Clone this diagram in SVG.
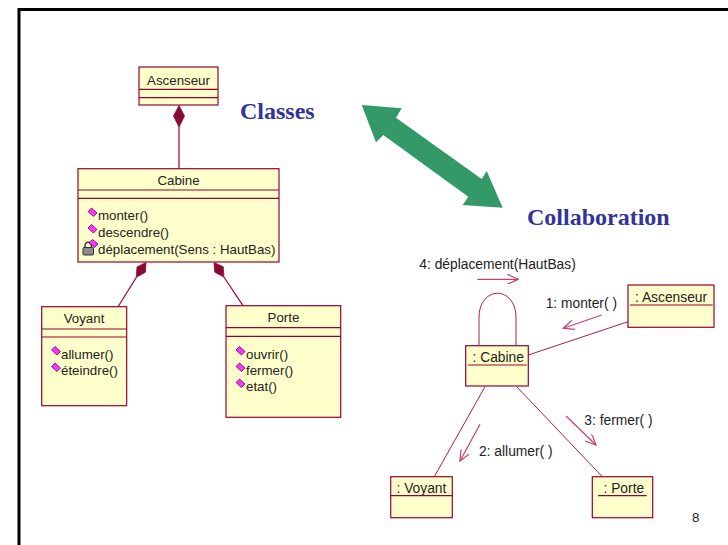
<svg xmlns="http://www.w3.org/2000/svg" width="728" height="545" viewBox="0 0 728 545">
  <style>
    .box { fill: #ffffcc; stroke: #990033; stroke-width: 1.2; }
    .sep { stroke: #990033; stroke-width: 1.2; fill: none; }
    .uml { font-family: "Liberation Sans", Arial, sans-serif; font-size: 13.3px; fill: #222222; }
    .obj { font-family: "Liberation Sans", Arial, sans-serif; font-size: 13.8px; fill: #222222; }
    .title { font-family: "Liberation Serif", "Times New Roman", serif; font-size: 24px; font-weight: bold; fill: #333399; }
    .link { stroke: #a8204e; stroke-width: 1; fill: none; }
    .msg { stroke: #c8406e; stroke-width: 1.2; fill: none; }
    .comp { fill: #8a0a36; stroke: #8a0a36; stroke-width: 0.8; }
    .op { fill: #ff33ff; stroke: #660066; stroke-width: 0.8; }
  </style>
  <defs>
    <marker id="open" viewBox="0 0 12 10" refX="11" refY="5" markerWidth="12" markerHeight="10" markerUnits="userSpaceOnUse" orient="auto">
      <path d="M0,0 L11,5 L0,10" fill="none" stroke="#c8406e" stroke-width="1.2"/>
    </marker>
    <!-- public operation icon -->
    <polygon id="opIcon" class="op" points="-4.5,-1 -1,-4.5 4.5,0.5 1,4"/>
  </defs>

  <rect x="0" y="0" width="728" height="545" fill="#ffffff"/>
  <!-- slide frame -->
  <rect x="19" y="9.5" width="800" height="600" fill="none" stroke="#000000" stroke-width="3"/>

  <!-- titles -->
  <text class="title" x="240" y="119">Classes</text>
  <text class="title" x="527" y="225">Collaboration</text>

  <!-- green double arrow -->
  <polygon fill="#339966" points="361.7,105 401.7,108.3 396,117.7 481.7,179 486.7,171 502.7,207.7 462.7,205 468.3,196.7 383.3,135 376,142.3"/>

  <!-- class diagram connectors -->
  <g id="class-connectors">
    <line class="sep" x1="179" y1="127" x2="179" y2="168.7"/>
    <polygon class="comp" points="179,105.5 184.5,116 179,127 173.5,116"/>
    <line class="sep" x1="136.4" y1="277.2" x2="118" y2="306.7"/>
    <polygon class="comp" points="146,262.5 145.4,272.3 136.4,277.2 137,266.9"/>
    <line class="sep" x1="223.9" y1="277" x2="243" y2="305.7"/>
    <polygon class="comp" points="214,262.5 223.2,266.8 223.9,277 214.8,272.3"/>
  </g>

  <!-- Ascenseur class -->
  <g id="class-ascenseur">
    <rect class="box" x="139" y="67" width="79" height="38"/>
    <line class="sep" x1="139" y1="89.3" x2="218" y2="89.3"/>
    <line class="sep" x1="139" y1="97.7" x2="218" y2="97.7"/>
    <text class="uml" x="178.5" y="84.5" text-anchor="middle">Ascenseur</text>
  </g>

  <!-- Cabine class -->
  <g id="class-cabine">
    <rect class="box" x="78" y="168.7" width="201" height="93.3"/>
    <line class="sep" x1="78" y1="190" x2="279" y2="190"/>
    <line class="sep" x1="78" y1="198.3" x2="279" y2="198.3"/>
    <text class="uml" x="178.5" y="185" text-anchor="middle">Cabine</text>
    <use href="#opIcon" x="92.5" y="212.5"/>
    <text class="uml" x="98" y="220">monter()</text>
    <use href="#opIcon" x="92.5" y="229"/>
    <text class="uml" x="98" y="236.5">descendre()</text>
    <!-- private operation: padlock + icon -->
    <path d="M85,248 L85,245.5 A3.2,3.2 0 0 1 91.4,245.5 L91.4,248" fill="none" stroke="#333333" stroke-width="1.4"/>
    <rect x="83" y="247.5" width="10.5" height="7.5" rx="1" fill="#8c8c8c" stroke="#333333" stroke-width="1"/>
    <polygon class="op" points="89,243 92.5,239.5 98,244 94.5,247.5"/>
    <text class="uml" x="98" y="253.5">déplacement(Sens : HautBas)</text>
  </g>

  <!-- Voyant class -->
  <g id="class-voyant">
    <rect class="box" x="41.7" y="306.7" width="85" height="99"/>
    <line class="sep" x1="41.7" y1="329" x2="126.7" y2="329"/>
    <line class="sep" x1="41.7" y1="337" x2="126.7" y2="337"/>
    <text class="uml" x="84" y="323" text-anchor="middle">Voyant</text>
    <use href="#opIcon" x="56" y="351"/>
    <text class="uml" x="61" y="358.5">allumer()</text>
    <use href="#opIcon" x="56" y="367.5"/>
    <text class="uml" x="61" y="375">éteindre()</text>
  </g>

  <!-- Porte class -->
  <g id="class-porte">
    <rect class="box" x="226" y="305.7" width="114.7" height="111.6"/>
    <line class="sep" x1="226" y1="327.7" x2="340.7" y2="327.7"/>
    <line class="sep" x1="226" y1="336.3" x2="340.7" y2="336.3"/>
    <text class="uml" x="283.5" y="322" text-anchor="middle">Porte</text>
    <use href="#opIcon" x="240.5" y="351"/>
    <text class="uml" x="246" y="358.5">ouvrir()</text>
    <use href="#opIcon" x="240.5" y="367.5"/>
    <text class="uml" x="246" y="375">fermer()</text>
    <use href="#opIcon" x="240.5" y="383.5"/>
    <text class="uml" x="246" y="391">etat()</text>
  </g>

  <!-- collaboration links and messages -->
  <g id="collab-connectors">
    <path class="link" d="M479,345.7 L479,318 C479,285 516,285 516,318 L516,345.7"/>
    <line class="link" x1="528.3" y1="355" x2="628" y2="321.7"/>
    <line class="link" x1="485" y1="386.7" x2="434.3" y2="476.7"/>
    <line class="link" x1="516.7" y1="386.7" x2="602.3" y2="476.7"/>
    <line class="msg" x1="477.3" y1="279.3" x2="518.3" y2="279.3" marker-end="url(#open)"/>
    <line class="msg" x1="601.7" y1="315" x2="563.3" y2="328.3" marker-end="url(#open)"/>
    <line class="msg" x1="480" y1="424.3" x2="460" y2="461" marker-end="url(#open)"/>
    <line class="msg" x1="566" y1="416" x2="596" y2="445" marker-end="url(#open)"/>
    <text class="obj" x="419.3" y="269.3">4: déplacement(HautBas)</text>
    <text class="obj" x="545.7" y="308.3">1: monter( )</text>
    <text class="obj" x="479" y="456">2: allumer( )</text>
    <text class="obj" x="584.3" y="425">3: fermer( )</text>
  </g>

  <!-- collaboration objects -->
  <g id="obj-cabine">
    <rect class="box" x="465.7" y="345.7" width="62.6" height="40.3"/>
    <text class="obj" x="472.5" y="361.7">: Cabine</text>
    <line class="sep" x1="467.7" y1="365" x2="526.7" y2="365"/>
  </g>
  <g id="obj-ascenseur">
    <rect class="box" x="628" y="285" width="86" height="42.3"/>
    <text class="obj" x="635" y="301.7">: Ascenseur</text>
    <line class="sep" x1="630" y1="305" x2="712.7" y2="305"/>
  </g>
  <g id="obj-voyant">
    <rect class="box" x="390.7" y="476.7" width="61.6" height="41"/>
    <text class="obj" x="396.5" y="492.7">: Voyant</text>
    <line class="sep" x1="390.7" y1="495.7" x2="452.3" y2="495.7"/>
  </g>
  <g id="obj-porte">
    <rect class="box" x="592.3" y="476.7" width="60.4" height="41"/>
    <text class="obj" x="603.5" y="492.7">: Porte</text>
    <line class="sep" x1="598" y1="495.7" x2="646.7" y2="495.7"/>
  </g>

  <!-- page number -->
  <text class="uml" x="692" y="521.7" fill="#000000">8</text>
</svg>
